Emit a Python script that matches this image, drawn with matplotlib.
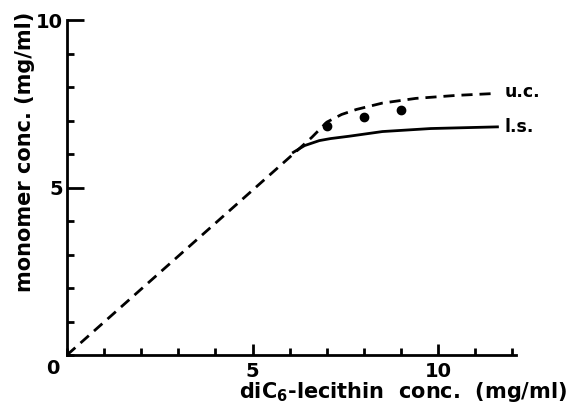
import matplotlib
matplotlib.use("Agg")
import matplotlib.pyplot as plt

# data
uc_x = [0, 6.2, 6.6, 7.0, 7.4, 7.8, 8.5, 9.4, 10.5, 11.6]
uc_y = [0, 6.1, 6.5, 6.95, 7.18, 7.33, 7.52, 7.66, 7.75, 7.81]
ls_x = [6.1, 6.4, 6.8, 7.1, 7.6, 8.5, 9.8, 11.6]
ls_y = [6.05, 6.25, 6.4, 6.46, 6.53, 6.67, 6.76, 6.81]
pts_x = [7, 8, 9]
pts_y = [6.85, 7.1, 7.3]
xticks_major = [5, 10]
yticks_major = [5, 10]
origin_label = '0'

plt.rcParams['font.family'] = ['DejaVu Sans']
plt.rcParams['font.weight'] = 'bold'
plt.rcParams['mathtext.fontset'] = 'custom'
plt.rcParams['mathtext.bf'] = 'DejaVu Sans:bold'
plt.rcParams['mathtext.rm'] = 'DejaVu Sans:bold'

fig = plt.figure(figsize=(5.78, 4.05), dpi=100)
ax = fig.add_axes([67/578, 1-355/405, (516-67)/578, (355-20)/405])
ax.set_xlim(0, 12.1)
ax.set_ylim(0, 10)

ax.plot(uc_x, uc_y, color='black', lw=2.0, linestyle=(0, (4, 2.5)))
ax.plot(ls_x, ls_y, color='black', lw=2.0)
ax.plot(pts_x, pts_y, 'o', color='black', ms=6)

for s in ['top', 'right']:
    ax.spines[s].set_visible(False)
for s in ['left', 'bottom']:
    ax.spines[s].set_linewidth(2)

ax.set_xticks(xticks_major)
ax.set_yticks(yticks_major)
ax.set_xticks(range(0, 13), minor=True)
ax.set_yticks(range(0, 11), minor=True)
ax.tick_params(which='major', direction='in', length=8, width=2, labelsize=14, pad=5)
ax.tick_params(which='minor', direction='in', length=5, width=2)
ax.tick_params(axis='y', which='major', length=12, pad=3)
for lab in ax.get_xticklabels() + ax.get_yticklabels():
    lab.set_fontweight('bold')

ax.text(-0.38, -0.4, origin_label, fontsize=14, fontweight='bold', ha='center', va='center')

ax.text(11.8, 7.85, 'u.c.', fontsize=12.5, fontweight='bold', va='center', ha='left')
ax.text(11.8, 6.8, 'l.s.', fontsize=12.5, fontweight='bold', va='center', ha='left')

fig.text(403/578, 1-392/405, r'diC$_{\mathbf{6}}$-lecithin  conc.  (mg/ml)',
         fontsize=15, fontweight='bold', ha='center', va='center')
fig.text(25/578, 1-152/405, 'monomer conc. (mg/ml)', rotation=90,
         fontsize=15, fontweight='bold', ha='center', va='center')

fig.savefig('out.png', dpi=100)
